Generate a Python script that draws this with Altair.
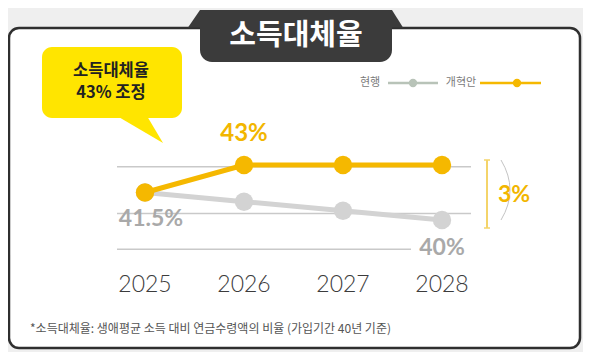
import altair as alt
import pandas as pd

# ---- data ----
years = [2025, 2026, 2027, 2028]
current = [41.5, 41.0, 40.5, 40.0]   # 현행
reform = [41.5, 43.0, 43.0, 43.0]    # 개혁안
series = ["현행", "개혁안"]
line_colors = ["#d3d3d3", "#f5b800"]
legend_colors = ["#b8c3b8", "#f5b800"]
year_labels = ["2025", "2026", "2027", "2028"]
grid_values = [42.9, 40.35, 38.4]
title_text = "소득대체율"
bubble_lines = ["소득대체율", "43% 조정"]
gap_label = "3%"
footnote = "*소득대체율: 생애평균 소득 대비 연금수령액의 비율 (가입기간 40년 기준)"

KR = "Noto Sans CJK KR"
NUM = "Lato"
W, H = 575, 344

df = pd.DataFrame({
    "year": years * 2,
    "value": current + reform,
    "series": [series[0]] * 4 + [series[1]] * 4,
})
yl = pd.DataFrame({"year": years, "label": year_labels})
one = pd.DataFrame({"k": [0]})

xs = alt.Scale(domain=[2025, 2028], range=[137, 434], nice=False, zero=False)
ys = alt.Scale(domain=[40, 43], range=[212, 157], nice=False, zero=False)
X = alt.X("year:Q", scale=xs, axis=None)
Y = alt.Y("value:Q", scale=ys, axis=None)

# ---- decorations ----
box = alt.Chart(one).mark_rect(fill="white", stroke="#2f2f2f", strokeWidth=2.5,
                               cornerRadius=10).encode(
    x=alt.value(1), x2=alt.value(572), y=alt.value(20), y2=alt.value(340))

tab_shoulder = alt.Chart(one).mark_point(
    shape="M -0.955 -0.085 L 0.965 -0.085 L 1.075 0.09 L -1.075 0.09 Z",
    filled=True, fill="#3b3b3b", strokeWidth=0, opacity=1, size=40000).encode(
    x=alt.value(287.5), y=alt.value(10.5))
tab = alt.Chart(one).mark_rect(fill="#3b3b3b", cornerRadiusBottomLeft=12,
                               cornerRadiusBottomRight=12).encode(
    x=alt.value(192), x2=alt.value(384), y=alt.value(2), y2=alt.value(54))
tab_text = alt.Chart(one).mark_text(text=title_text, font=KR, fontSize=29,
                                    fontWeight="bold", color="white",
                                    align="center", baseline="middle").encode(
    x=alt.value(288), y=alt.value(28))

bubble = alt.Chart(one).mark_rect(fill="#ffe500", cornerRadius=10).encode(
    x=alt.value(34), x2=alt.value(174), y=alt.value(39), y2=alt.value(110))
tail = alt.Chart(one).mark_point(
    shape="M -1.15 -0.6 L 0.35 -0.6 L 1.15 0.75 Z",
    filled=True, fill="#ffe500", strokeWidth=0, opacity=1, size=1600).encode(
    x=alt.value(132), y=alt.value(120))
bubble_t1 = alt.Chart(one).mark_text(text=bubble_lines[0], font=KR, fontSize=16.5,
                                     fontWeight="bold", color="#222222",
                                     align="center", baseline="middle").encode(
    x=alt.value(103), y=alt.value(63))
bubble_t2 = alt.Chart(one).mark_text(text=bubble_lines[1], font=KR, fontSize=16.5,
                                     fontWeight="bold", color="#222222",
                                     align="center", baseline="middle").encode(
    x=alt.value(103), y=alt.value(85))

# legend
leg_layers = []
leg_pos = [(362, 380, 430, 405), (453, 472, 533, 509)]
for name, col, (tx, l0, l1, dot) in zip(series, legend_colors, leg_pos):
    leg_layers.append(alt.Chart(one).mark_text(text=name, font=KR, fontSize=11,
                                               color="#7a7a7a", align="center",
                                               baseline="middle").encode(
        x=alt.value(tx), y=alt.value(75)))
    leg_layers.append(alt.Chart(one).mark_rule(color=col, strokeWidth=2.5).encode(
        x=alt.value(l0), x2=alt.value(l1), y=alt.value(75)))
    leg_layers.append(alt.Chart(one).mark_point(filled=True, color=col, opacity=1,
                                                size=70).encode(
        x=alt.value(dot), y=alt.value(75)))

# grid lines
grid_df = pd.DataFrame({"value": grid_values})
grid_a = alt.Chart(grid_df.iloc[:2]).mark_rule(color="#c9c9c9", strokeWidth=1.5).encode(
    y=Y, x=alt.value(109), x2=alt.value(463))
grid_b = alt.Chart(grid_df.iloc[2:]).mark_rule(color="#c9c9c9", strokeWidth=1.5).encode(
    y=Y, x=alt.value(109), x2=alt.value(403))

# ---- series ----
base = alt.Chart(df).encode(x=X, y=Y)
cur = base.transform_filter(alt.datum.series == series[0])
ref = base.transform_filter(alt.datum.series == series[1])
cur_line = cur.mark_line(color=line_colors[0], strokeWidth=5)
cur_pts = cur.mark_point(filled=True, color=line_colors[0], opacity=1, size=340)
ref_line = ref.mark_line(color=line_colors[1], strokeWidth=5)
ref_pts = ref.mark_point(filled=True, color=line_colors[1], opacity=1, size=340)

# value labels
lab43 = alt.Chart(pd.DataFrame({"year": [years[1]], "value": [reform[1]],
                                "t": [f"{reform[1]:g}%"]})).mark_text(
    font=NUM, fontSize=24, fontWeight="bold", color="#f2b600", dy=-31,
    align="center", baseline="middle").encode(x=X, y=Y, text="t:N")
lab415 = alt.Chart(pd.DataFrame({"year": [years[0]], "value": [current[0]],
                                 "t": [f"{current[0]:g}%"]})).mark_text(
    font=NUM, fontSize=23, fontWeight="bold", color="#a9a9a9", dy=26, dx=6,
    align="center", baseline="middle").encode(x=X, y=Y, text="t:N")
lab40 = alt.Chart(pd.DataFrame({"year": [years[3]], "value": [current[3]],
                                "t": [f"{current[3]:g}%"]})).mark_text(
    font=NUM, fontSize=23, fontWeight="bold", color="#a9a9a9", dy=28,
    align="center", baseline="middle").encode(x=X, y=Y, text="t:N")

# gap bracket
br = alt.Chart(one).mark_rule(color="#f4d46a", strokeWidth=2).encode(
    x=alt.value(479), y=alt.value(152), y2=alt.value(220))
br_top = alt.Chart(one).mark_rule(color="#f4d46a", strokeWidth=1.5).encode(
    x=alt.value(476), x2=alt.value(482), y=alt.value(152))
br_bot = alt.Chart(one).mark_rule(color="#f4d46a", strokeWidth=1.5).encode(
    x=alt.value(476), x2=alt.value(482), y=alt.value(220))
arc = alt.Chart(one).mark_point(shape="M 0 -1 Q 0.6 0 0 1", filled=False,
                                stroke="#c4c4c4", strokeWidth=1, opacity=1,
                                size=3600).encode(x=alt.value(493), y=alt.value(182))
gap_t = alt.Chart(one).mark_text(text=gap_label, font=NUM, fontSize=23,
                                 fontWeight="bold", color="#f2b600",
                                 align="center", baseline="middle").encode(
    x=alt.value(506), y=alt.value(187))

# year labels
year_text = alt.Chart(yl).mark_text(font=NUM, fontSize=23, fontWeight=300,
                                    color="#3c3c3c", align="center",
                                    baseline="middle").encode(
    x=X, y=alt.value(277), text="label:N")

foot = alt.Chart(one).mark_text(text=footnote, font=KR, fontSize=12,
                                color="#555555", align="left",
                                baseline="middle").encode(
    x=alt.value(22), y=alt.value(321))

chart = alt.layer(
    box, tab_shoulder, tab, tab_text, bubble, tail, bubble_t1, bubble_t2,
    *leg_layers, grid_a, grid_b,
    cur_line, cur_pts, ref_line, ref_pts,
    lab43, lab415, lab40, br, br_top, br_bot, arc, gap_t, year_text, foot
).properties(
    width=W, height=H, background="#efefef", padding=0,
    autosize=alt.AutoSizeParams(type="none"),
).configure_view(strokeWidth=0)

chart.save("out.html", embed_options={"renderer": "svg", "actions": False})
